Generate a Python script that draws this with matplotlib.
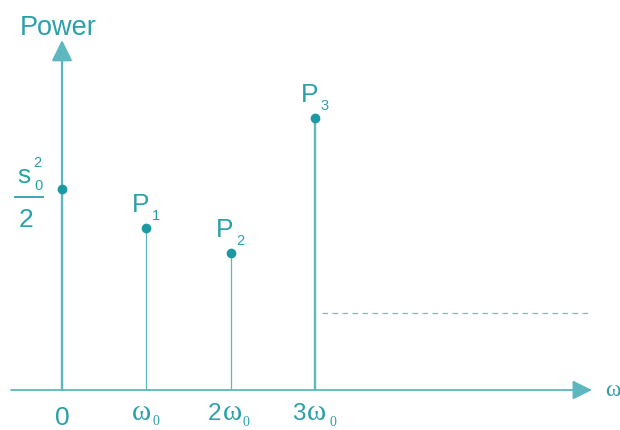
import matplotlib
matplotlib.use("Agg")
import matplotlib.pyplot as plt

# Line spectrum: harmonic index and power level of each component
harmonics = [0, 1, 2, 3]
powers = [2.01, 1.62, 1.37, 2.72]
stem_widths = [1.6, 0.9, 0.9, 1.7]
noise_level = 0.77
noise_span = [3.08, 6.24]

tick_prefix = ["", "", "2", "3"]
peak_names = ["P", "P", "P"]
peak_subs = ["1", "2", "3"]

TEXT = "#2aa0a8"
LINE = "#5cb7be"
DOT = "#1c9aa4"
DASH = "#8fb3b6"
SANS = "Liberation Sans"
SERIF = "Liberation Serif"

fig = plt.figure(figsize=(6.2, 4.3), dpi=100)
ax = fig.add_axes([0, 0, 1, 1])
ax.set_xlim(-0.7355, 6.617)
ax.set_ylim(-0.40, 3.90)
ax.axis("off")


def label(txt, xy, dx, dy, size, family=SANS, ha="left"):
    """Place text at an offset (in points) from a data point, on its baseline."""
    ax.annotate(txt, xy=xy, xytext=(dx, dy), textcoords="offset points",
                color=TEXT, fontsize=size, family=family, ha=ha,
                va="baseline", annotation_clip=False)


# axes with arrow heads
ax.annotate("", xy=(0, 3.50), xytext=(0, 0),
            arrowprops=dict(arrowstyle="-|>,head_length=0.85,head_width=0.42",
                            color=LINE, lw=1.6, mutation_scale=15,
                            shrinkA=0, shrinkB=0))
ax.annotate("", xy=(6.285, 0), xytext=(-0.605, 0),
            arrowprops=dict(arrowstyle="-|>,head_length=0.85,head_width=0.42",
                            color=LINE, lw=1.3, mutation_scale=14,
                            shrinkA=0, shrinkB=0))

# spectral lines
for h, p, w in zip(harmonics, powers, stem_widths):
    ax.plot([h, h], [0, p], color=LINE, lw=w, solid_capstyle="butt", zorder=2)
ax.plot(harmonics, powers, "o", color=DOT, ms=6, zorder=3)

# continuous floor beyond the third harmonic
ax.plot(noise_span, [noise_level, noise_level], color=DASH, lw=0.9,
        dashes=(4.5, 3.5))

# axis titles
label("Power", (0, 0), -30.5, 255.5, 19.5)
label("ω", (noise_span[1], 0), 12, -4.5, 17, family=SERIF)

# s0^2 / 2 label beside the dc component
h0, p0 = harmonics[0], powers[0]
label("s", (h0, p0), -32.5, 4.3, 19)
label("2", (h0, p0), -21, 16, 10.5)
label("0", (h0, p0), -20, -0.8, 10.5)
ax.plot([h0 - 0.557, h0 - 0.225], [p0 - 0.08, p0 - 0.08], color=TEXT, lw=1.3)
label("2", (h0, p0), -31, -27, 19)

# peak labels P1, P2, P3
for h, p, name, sub in zip(harmonics[1:], powers[1:], peak_names, peak_subs):
    label(name, (h, p), -10.5, 11.5, 19)
    label(sub, (h, p), 4, 5.8, 10.5)

# harmonic tick labels
for h, pre in zip(harmonics, tick_prefix):
    if h == 0:
        label("0", (h, 0), 0, -25.0, 19, ha="center")
        continue
    if pre:
        label(pre, (h, 0), -16.3, -21.6, 17.5)
        label("ω", (h, 0), -5.8, -21.6, 21, family=SERIF)
        label("0", (h, 0), 8.8 + 1.6 * (h - 2), -25.6, 10, family=SERIF)
    else:
        label("ω", (h, 0), -10.5, -21.6, 21, family=SERIF)
        label("0", (h, 0), 4.3, -25.2, 10, family=SERIF)

fig.savefig("out.png", dpi=100)
